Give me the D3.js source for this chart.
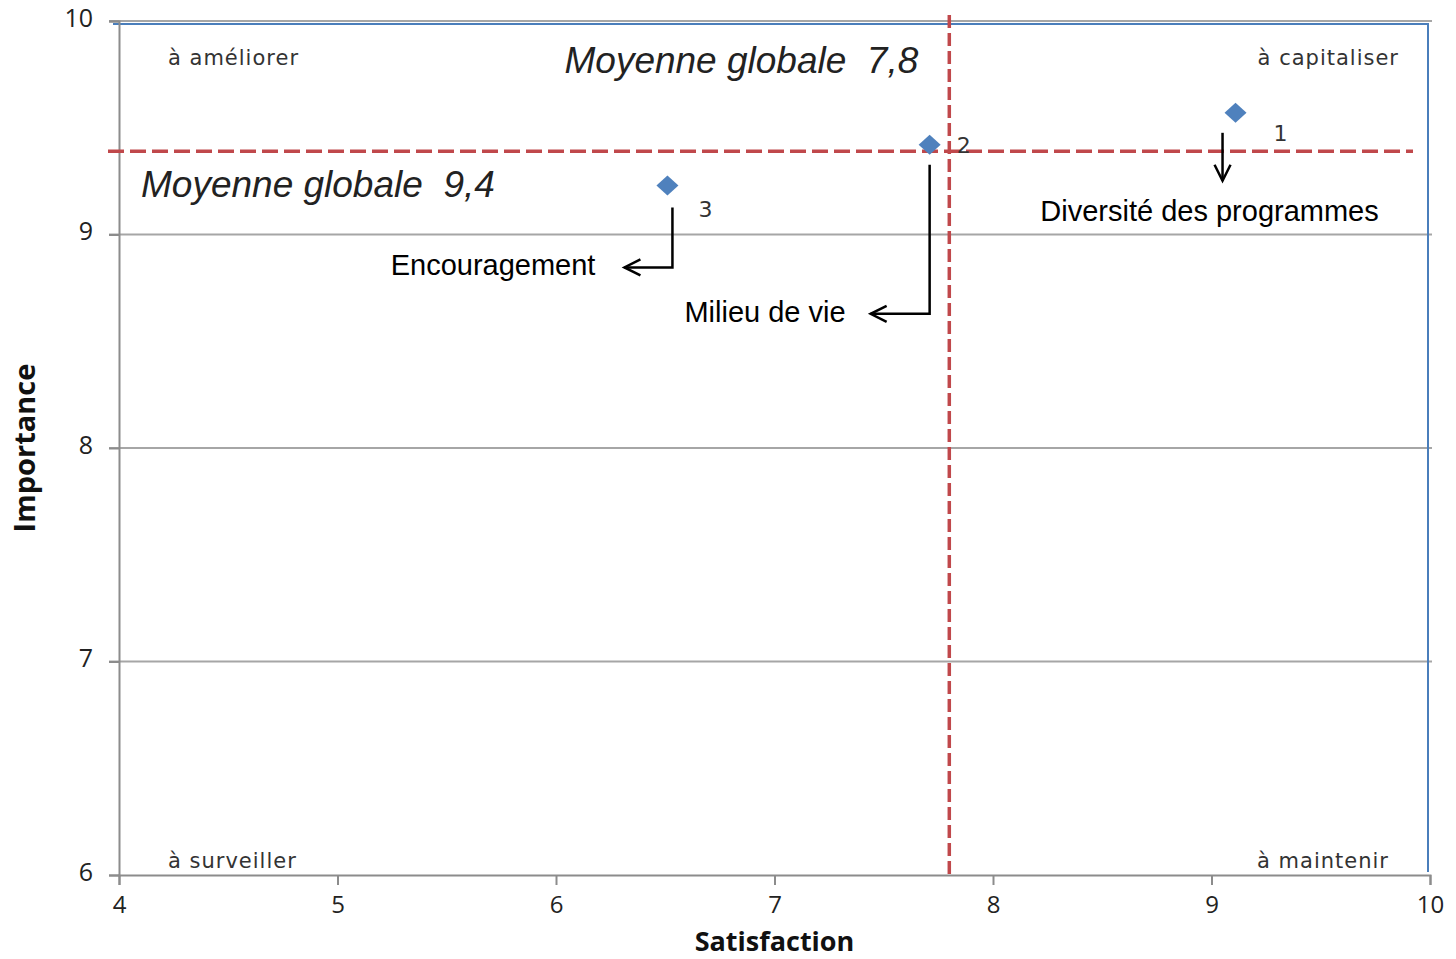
<!DOCTYPE html>
<html>
<head>
<meta charset="utf-8">
<script src="https://cdn.jsdelivr.net/npm/d3@7"></script>
<style>
	body { margin: 0; background: #fff; }
	svg text { font-family: "Liberation Sans", Arial, sans-serif; }
</style>
</head>
<body>
<div id="chart"></div>
<script>
// Data
const pointIds = ["1", "2", "3"];
const pointNames = ["Diversité des programmes", "Milieu de vie", "Encouragement"];
const satisfaction = [9.11, 7.71, 6.51];
const importance = [9.57, 9.42, 9.23];
const meanSatisfaction = 7.8;
const meanImportance = 9.39;
const xTicks = [4, 5, 6, 7, 8, 9, 10];
const yTicks = [6, 7, 8, 9, 10];
const quadrantLabels = ["à améliorer", "à capitaliser", "à surveiller", "à maintenir"];

const W = 1456, H = 959;
const margin = { top: 21, right: 26, bottom: 84, left: 119 };
const width = W - margin.left - margin.right;
const height = H - margin.top - margin.bottom;

const svg = d3.select("#chart").append("svg")
	.attr("width", W)
	.attr("height", H);

const g = svg.append("g")
	.attr("transform", `translate(${margin.left},${margin.top})`);

const x = d3.scaleLinear().domain([4, 10]).range([0, width]);
const y = d3.scaleLinear().domain([6, 10]).range([height, 0]);

// Horizontal gridlines (with ticks extending left)
g.selectAll("line.grid")
	.data(yTicks.filter(d => d !== 6))
	.enter()
	.append("line")
	.attr("class", "grid")
	.attr("x1", -10)
	.attr("x2", width + 2)
	.attr("y1", d => y(d))
	.attr("y2", d => y(d))
	.attr("stroke", "#a6a6a6")
	.attr("stroke-width", 2);

// Blue plot-area border (top + right)
g.append("path")
	.attr("d", `M${-6},${y(10) + 3}H${width - 2}V${height - 3}`)
	.attr("fill", "none")
	.attr("stroke", "#4a7ebb")
	.attr("stroke-width", 2);

// Y axis
const yAxis = d3.axisLeft(y).tickValues(yTicks).tickSize(10).tickFormat(d3.format("d"));
const yAxisG = g.append("g").call(yAxis);
// X axis
const xAxis = d3.axisBottom(x).tickValues(xTicks).tickSize(10).tickFormat(d3.format("d"));
const xAxisG = g.append("g").attr("transform", `translate(0,${height})`).call(xAxis);

[yAxisG, xAxisG].forEach(ax => {
	ax.select(".domain").attr("stroke", "#8c8c8c").attr("stroke-width", 2);
	ax.selectAll(".tick line").attr("stroke", "#8c8c8c").attr("stroke-width", 2);
	ax.selectAll(".tick text")
		.attr("fill", "#222")
		.style("font-family", "'Open Sans', sans-serif")
		.style("font-size", "25px");
});
yAxisG.selectAll(".tick text").attr("x", -26).attr("dy", "0.2em");
xAxisG.selectAll(".tick text").style("font-size", "24px").attr("y", 21);

// Axis titles
svg.append("text")
	.attr("x", margin.left + x(7))
	.attr("y", 951)
	.attr("text-anchor", "middle")
	.style("font-family", "'Open Sans', sans-serif")
	.style("font-size", "27px")
	.style("font-weight", "bold")
	.attr("fill", "#111")
	.text("Satisfaction");

svg.append("text")
	.attr("transform", `translate(35,${margin.top + y(8)}) rotate(-90)`)
	.attr("text-anchor", "middle")
	.style("font-family", "'Open Sans', sans-serif")
	.style("font-size", "29px")
	.style("font-weight", "bold")
	.attr("fill", "#111")
	.text("Importance");

// Mean lines
const meanColor = "#c0484b";
g.append("line")
	.attr("x1", x(meanSatisfaction))
	.attr("x2", x(meanSatisfaction))
	.attr("y1", -6)
	.attr("y2", height)
	.attr("stroke", meanColor)
	.attr("stroke-width", 3.5)
	.attr("stroke-dasharray", "13,5");

g.append("line")
	.attr("x1", -11)
	.attr("x2", width - 17)
	.attr("y1", y(meanImportance))
	.attr("y2", y(meanImportance))
	.attr("stroke", meanColor)
	.attr("stroke-width", 3.5)
	.attr("stroke-dasharray", "16,6");

// Mean labels
g.append("text")
	.attr("x", x(meanSatisfaction) - 31)
	.attr("y", 52)
	.attr("text-anchor", "end")
	.style("font-size", "37px")
	.style("font-style", "italic")
	.attr("fill", "#222")
	.text("Moyenne globale\u00a0\u00a07,8");

g.append("text")
	.attr("x", 22)
	.attr("y", 176)
	.style("font-size", "37px")
	.style("font-style", "italic")
	.attr("fill", "#222")
	.text("Moyenne globale\u00a0\u00a09,4");

// Quadrant labels
const quadPos = [
	{ x: 49, y: 44, anchor: "start" },
	{ x: width - 31, y: 44, anchor: "end" },
	{ x: 49, y: height - 7, anchor: "start" },
	{ x: width - 41, y: height - 7, anchor: "end" }
];
quadrantLabels.forEach((t, i) => {
	g.append("text")
		.attr("x", quadPos[i].x)
		.attr("y", quadPos[i].y)
		.attr("text-anchor", quadPos[i].anchor)
		.style("font-family", "'DejaVu Sans', sans-serif")
		.style("font-size", "21px")
		.style("letter-spacing", "1px")
		.attr("fill", "#333")
		.text(t);
});

// Points (diamonds)
const points = pointIds.map((id, i) => ({
	id: id, name: pointNames[i], sx: satisfaction[i], iy: importance[i]
}));

g.selectAll("path.point")
	.data(points)
	.enter()
	.append("path")
	.attr("class", "point")
	.attr("transform", d => `translate(${x(d.sx)},${y(d.iy)})`)
	.attr("d", "M0,-10L11,0L0,10L-11,0Z")
	.attr("fill", "#4f81bd");

// Point number labels
const idOffsets = [[38, 28], [27, 8], [31, 32]];
g.selectAll("text.pid")
	.data(points)
	.enter()
	.append("text")
	.attr("class", "pid")
	.attr("x", (d, i) => x(d.sx) + idOffsets[i][0])
	.attr("y", (d, i) => y(d.iy) + idOffsets[i][1])
	.style("font-family", "'DejaVu Sans', sans-serif")
	.style("font-size", "22px")
	.attr("fill", "#333")
	.text(d => d.id);

// Annotation arrows and names
const arrow = g.append("g")
	.attr("fill", "none")
	.attr("stroke", "#000")
	.attr("stroke-width", 2.5);

function chevronLeft(px, py) {
	return `M${px + 16},${py - 8}L${px},${py}L${px + 16},${py + 8}`;
}
function chevronDown(px, py) {
	return `M${px - 8},${py - 16}L${px},${py}L${px + 8},${py - 16}`;
}

// 1 - Diversité des programmes: arrow pointing down
const p1 = points[0];
const a1x = x(p1.sx) - 13;
arrow.append("path").attr("d", `M${a1x},${y(p1.iy) + 20}V${y(p1.iy) + 68}`);
arrow.append("path").attr("d", chevronDown(a1x, y(p1.iy) + 68));
g.append("text")
	.attr("x", a1x - 13)
	.attr("y", y(p1.iy) + 108)
	.attr("text-anchor", "middle")
	.style("font-size", "29px")
	.attr("fill", "#000")
	.text(p1.name);

// 2 - Milieu de vie
const p2 = points[1];
const a2x = x(p2.sx);
arrow.append("path").attr("d", `M${a2x},${y(p2.iy) + 20}V${y(p2.iy) + 169}H${a2x - 59}`);
arrow.append("path").attr("d", chevronLeft(a2x - 59, y(p2.iy) + 169));
g.append("text")
	.attr("x", a2x - 84)
	.attr("y", y(p2.iy) + 177)
	.attr("text-anchor", "end")
	.style("font-size", "29px")
	.attr("fill", "#000")
	.text(p2.name);

// 3 - Encouragement
const p3 = points[2];
const a3x = x(p3.sx) + 5;
arrow.append("path").attr("d", `M${a3x},${y(p3.iy) + 22}V${y(p3.iy) + 82}H${a3x - 48}`);
arrow.append("path").attr("d", chevronLeft(a3x - 48, y(p3.iy) + 82));
g.append("text")
	.attr("x", a3x - 77)
	.attr("y", y(p3.iy) + 90)
	.attr("text-anchor", "end")
	.style("font-size", "29px")
	.attr("fill", "#000")
	.text(p3.name);
</script>
</body>
</html>
